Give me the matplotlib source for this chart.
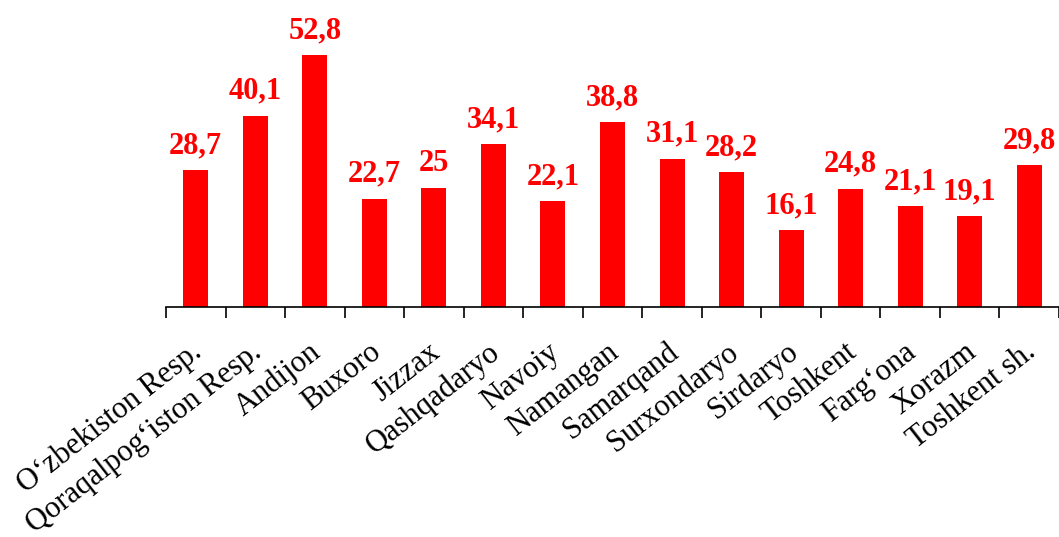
import matplotlib.pyplot as plt
import matplotlib.transforms as mtransforms
import numpy as np

# Data
regions = ["O\u2018zbekiston Resp.", "Qoraqalpog\u2018iston Resp.", "Andijon", "Buxoro",
           "Jizzax", "Qashqadaryo", "Navoiy", "Namangan", "Samarqand", "Surxondaryo",
           "Sirdaryo", "Toshkent", "Farg\u2018ona", "Xorazm", "Toshkent sh."]
values = [28.7, 40.1, 52.8, 22.7, 25.0, 34.1, 22.1, 38.8, 31.1, 28.2,
          16.1, 24.8, 21.1, 19.1, 29.8]
value_labels = ["28,7", "40,1", "52,8", "22,7", "25", "34,1", "22,1", "38,8",
                "31,1", "28,2", "16,1", "24,8", "21,1", "19,1", "29,8"]

plt.rcParams['font.family'] = ['Liberation Serif', 'DejaVu Serif']

fig = plt.figure(figsize=(10.59, 5.37), dpi=100)
ax = fig.add_axes([166 / 1059, (537 - 307) / 537, (1059 - 166) / 1059, 307 / 537])

x = np.arange(len(regions))
ax.bar(x, values, width=0.42, color='#FF0000', zorder=2)

for xi, v, lab in zip(x, values, value_labels):
    ax.annotate(lab, (xi, v), xytext=(0, 7), textcoords='offset points',
                ha='center', va='bottom', fontsize=22, fontweight='bold',
                color='#FF0000')

ax.set_xlim(-0.5, len(regions) - 0.5)
ax.set_ylim(0, 64.3)

ax.set_xticks(x)
ax.set_xticklabels(regions, rotation=38, ha='right', rotation_mode='anchor',
                   fontsize=22)
ax.tick_params(axis='x', which='major', length=0, pad=22)
shift = mtransforms.ScaledTranslation(-6 / 100, 0, fig.dpi_scale_trans)
for lbl in ax.get_xticklabels():
    lbl.set_transform(lbl.get_transform() + shift)
ax.set_xticks(np.arange(-0.5, len(regions), 1.0), minor=True)
ax.tick_params(axis='x', which='minor', length=8, width=1.2, direction='out')

ax.set_yticks([])
for s in ['top', 'right', 'left']:
    ax.spines[s].set_visible(False)
ax.spines['bottom'].set_linewidth(1.2)

fig.savefig('out.png', dpi=100, facecolor='white')
